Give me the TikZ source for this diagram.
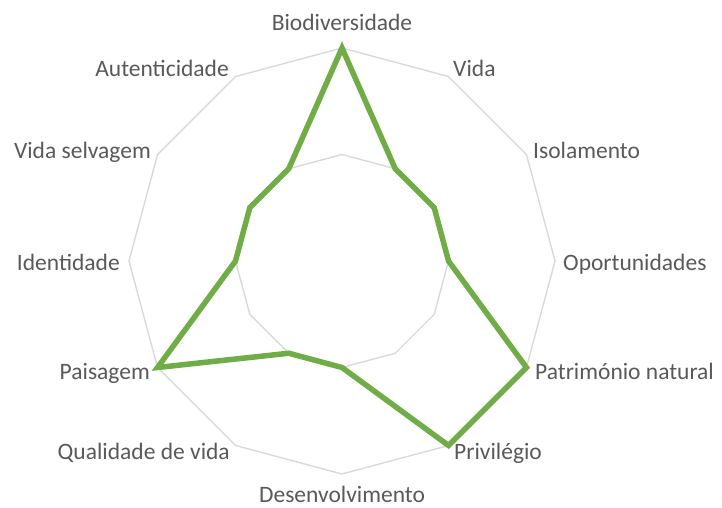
\documentclass[tikz,border=0pt]{standalone}
\usepackage{fontspec}
\setmainfont{Carlito}
\definecolor{gridgray}{HTML}{D9D9D9}
\definecolor{datagreen}{HTML}{70AD47}
\definecolor{labelgray}{HTML}{595959}
\begin{document}
\begin{tikzpicture}[x=1pt,y=-1pt,
  gridline/.style={draw=gridgray,line width=1.4pt,line join=miter},
  dataline/.style={draw=datagreen,line width=5.5pt,line join=miter,miter limit=10},
  lbl/.style={inner sep=0pt,text=labelgray,font=\fontsize{23.5}{28}\selectfont}]
\useasboundingbox (0,0) rectangle (722,508);
\coordinate (c) at (342,261);
\foreach \i in {0,...,11}{
  \coordinate (o\i) at ({342+213*cos(90-30*\i)},{261-213*sin(90-30*\i)});
  \coordinate (h\i) at ({342+106.5*cos(90-30*\i)},{261-106.5*sin(90-30*\i)});
}
\draw[gridline] (o0)--(o1)--(o2)--(o3)--(o4)--(o5)--(o6)--(o7)--(o8)--(o9)--(o10)--(o11)--cycle;
\draw[gridline] (h0)--(h1)--(h2)--(h3)--(h4)--(h5)--(h6)--(h7)--(h8)--(h9)--(h10)--(h11)--cycle;
\draw[dataline] (o0)--(h1)--(h2)--(h3)--(o4)--(o5)--(h6)--(h7)--(o8)--(h9)--(h10)--(h11)--cycle;
\node[lbl,anchor=base] (l0) at (342,31) {Biodiversidade};
\node[lbl,anchor=base west] (l1) at (453,77) {Vida};
\node[lbl,anchor=base west] (l2) at (533,158) {Isolamento};
\node[lbl,anchor=base west] (l3) at (563,270) {Oportunidades};
\node[lbl,anchor=base west] (l4) at (535,379) {Património natural};
\node[lbl,anchor=base west] (l5) at (454,459) {Privilégio};
\node[lbl,anchor=base] (l6) at (342,502) {Desenvolvimento};
\node[lbl,anchor=base east] (l7) at (230,459) {Qualidade de vida};
\node[lbl,anchor=base east] (l8) at (150,379) {Paisagem};
\node[lbl,anchor=base east] (l9) at (120,270) {Identidade};
\node[lbl,anchor=base east] (l10) at (151,158) {Vida selvagem};
\node[lbl,anchor=base east] (l11) at (229,77) {Autenticidade};
\end{tikzpicture}
\end{document}
